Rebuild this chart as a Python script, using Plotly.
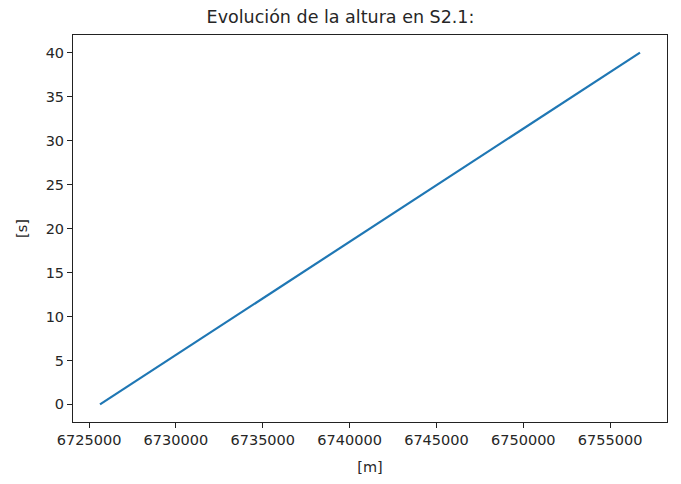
import plotly.graph_objects as go

x_vals = [6725630, 6756720]
y_vals = [0, 40]
x_ticks = [6725000, 6730000, 6735000, 6740000, 6745000, 6750000, 6755000]
y_ticks = [0, 5, 10, 15, 20, 25, 30, 35, 40]

fig = go.Figure()
fig.add_trace(go.Scatter(x=x_vals, y=y_vals, mode="lines",
                         line=dict(color="#1f77b4", width=2.2), showlegend=False))

span = x_vals[-1] - x_vals[0]
fig.update_layout(
    width=681, height=484,
    margin=dict(l=73, r=14, t=35, b=62),
    paper_bgcolor="white", plot_bgcolor="white",
    font=dict(family="DejaVu Sans", size=14.5, color="#262626"),
    title=dict(text="Evolución de la altura en S2.1:", x=0.5, xanchor="center",
               y=1 - 17 / 484, yanchor="middle", font=dict(size=17.5, color="#262626")),
)
fig.update_xaxes(
    range=[x_vals[0] - 0.05 * span, x_vals[-1] + 0.05 * span],
    tickvals=x_ticks, ticktext=[str(v) for v in x_ticks],
    ticks="outside", ticklen=5, tickcolor="#222", tickwidth=1,
    tickfont=dict(size=14.5),
    showline=True, linecolor="#222", linewidth=1, mirror=True,
    showgrid=False, zeroline=False,
    title=dict(text="[m]", standoff=14, font=dict(size=14.5)),
)
fig.update_yaxes(
    range=[-2, 42],
    tickvals=y_ticks, ticktext=[str(v) for v in y_ticks],
    ticks="outside", ticklen=5, tickcolor="#222", tickwidth=1,
    tickfont=dict(size=14.5),
    showline=True, linecolor="#222", linewidth=1, mirror=True,
    showgrid=False, zeroline=False,
    title=dict(text="[s]", standoff=14, font=dict(size=14.5)),
)
fig.write_html("out.html")
